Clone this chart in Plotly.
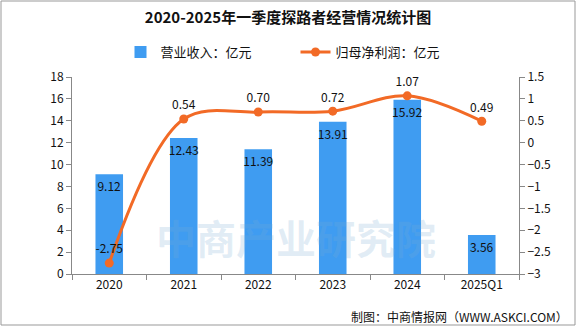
import plotly.graph_objects as go

categories = ["2020", "2021", "2022", "2023", "2024", "2025Q1"]
revenue = [9.12, 12.43, 11.39, 13.91, 15.92, 3.56]
profit = [-2.75, 0.54, 0.70, 0.72, 1.07, 0.49]
left_ticks = list(range(0, 19, 2))
right_ticks = [1.5, 1, 0.5, 0, -0.5, -1, -1.5, -2, -2.5, -3]

FONT = "Noto Sans CJK SC"
W, H = 576, 326
ML, MR, MT, MB = 72, 57, 77, 52

fig = go.Figure()
fig.add_trace(go.Bar(
    x=categories, y=revenue, name="营业收入：亿元",
    marker=dict(color="#3f9cf1", line=dict(width=0)),
    width=0.37,
    text=[f"{v:.2f}" for v in revenue], textposition="inside",
    insidetextanchor="end", textangle=0, constraintext="none",
    textfont=dict(color="#111111", size=12, family=FONT),
))
fig.add_trace(go.Scatter(
    x=categories, y=profit, name="归母净利润：亿元", yaxis="y2",
    mode="lines+markers+text",
    line=dict(color="#f26a26", width=3, shape="spline", smoothing=1.0),
    marker=dict(color="#f26a26", size=9),
    text=[f"{v:.2f}" for v in profit], textposition="top center",
    textfont=dict(color="#111111", size=12, family=FONT),
    cliponaxis=False,
))

fig.update_layout(
    width=W, height=H,
    margin=dict(l=ML, r=MR, t=MT, b=MB),
    paper_bgcolor="white", plot_bgcolor="white",
    font=dict(family=FONT, color="#111111", size=12),
    title=dict(text="<b>2020-2025年一季度探路者经营情况统计图</b>",
               x=0.5, xanchor="center", y=1 - 18 / H, yanchor="middle",
               font=dict(size=15, family=FONT, color="#111111")),
    legend=dict(orientation="h", x=0.5, xanchor="center",
                y=1 + (MT - 52) / (H - MT - MB), yanchor="middle",
                font=dict(size=13, family=FONT), entrywidth=130,
                entrywidthmode="pixels",
                bgcolor="rgba(0,0,0,0)"),
    showlegend=True,
    xaxis=dict(type="category", showline=True, linecolor="#888888", linewidth=1,
               ticks="outside", tickson="boundaries", tickcolor="#888888",
               ticklen=5, showgrid=False, tickfont=dict(size=12)),
    yaxis=dict(range=[0, 18], tickvals=left_ticks, showline=True,
               linecolor="#888888", ticks="outside", tickcolor="#888888",
               ticklen=5, showgrid=False, zeroline=False,
               tickfont=dict(size=12)),
    yaxis2=dict(range=[-3, 1.5], tickvals=right_ticks, overlaying="y",
                side="right", showline=True, linecolor="#888888",
                ticks="outside", tickcolor="#888888", ticklen=5,
                showgrid=False, zeroline=False, tickfont=dict(size=12)),
)

pw, ph = W - ML - MR, H - MT - MB
# outer frame
fig.add_shape(type="rect", xref="paper", yref="paper",
              x0=-(ML - 1) / pw, x1=1 + (MR - 1) / pw,
              y0=-(MB - 1) / ph, y1=1 + (MT - 1) / ph,
              line=dict(color="#999999", width=1), layer="below")
# watermark
fig.add_annotation(text="<b>中商产业研究院</b>", xref="paper", yref="paper",
                   x=0.5, y=0.19, yanchor="middle", showarrow=False,
                   font=dict(size=40, color="rgba(120,170,210,0.22)", family=FONT))
# footer
fig.add_annotation(text="制图：中商情报网（WWW.ASKCI.COM）", xref="paper", yref="paper",
                   x=1 + (MR - 6) / pw, xanchor="right",
                   y=-(MB - 10) / ph, yanchor="middle", showarrow=False,
                   font=dict(size=12, family=FONT, color="#111111"))

fig.write_html("out.html")
